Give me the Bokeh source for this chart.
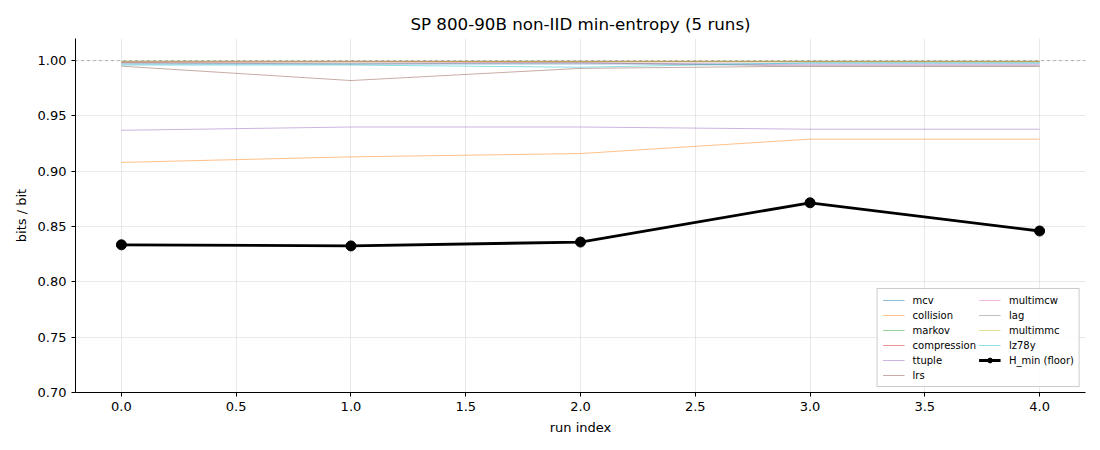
from bokeh.plotting import figure
from bokeh.models import FixedTicker, PrintfTickFormatter, Span, Legend, LegendItem, ColumnDataSource
from bokeh.embed import file_html
from bokeh.resources import INLINE

runs = [0, 1, 2, 3, 4]
mcv = [0.997, 0.997, 0.997, 0.997, 0.997]
collision = [0.908, 0.913, 0.916, 0.929, 0.929]
markov = [0.999, 0.999, 0.999, 0.999, 0.999]
compression = [0.9985, 0.999, 0.999, 0.999, 0.999]
ttuple = [0.937, 0.940, 0.940, 0.938, 0.938]
lrs = [0.995, 0.982, 0.993, 0.995, 0.995]
multimcw = [0.999, 0.999, 0.998, 0.996, 0.996]
lag = [0.998, 0.997, 0.998, 0.995, 0.995]
multimmc = [0.9995, 0.9995, 0.9995, 0.9995, 0.9995]
lz78y = [0.996, 0.996, 0.994, 0.998, 0.998]
h_min = [0.8335, 0.8325, 0.836, 0.8715, 0.846]

series = [
    ("mcv", mcv, "#1f77b4"),
    ("collision", collision, "#ff7f0e"),
    ("markov", markov, "#2ca02c"),
    ("compression", compression, "#d62728"),
    ("ttuple", ttuple, "#9467bd"),
    ("lrs", lrs, "#8c564b"),
    ("multimcw", multimcw, "#e377c2"),
    ("lag", lag, "#7f7f7f"),
    ("multimmc", multimmc, "#bcbd22"),
    ("lz78y", lz78y, "#17becf"),
]

FONT = "DejaVu Sans"

p = figure(width=1100, height=450, output_backend="svg", toolbar_location=None,
           x_range=(-0.2, 4.2), y_range=(0.70, 1.02),
           min_border_left=75, min_border_right=15, min_border_top=38, min_border_bottom=58,
           title="SP 800-90B non-IID min-entropy (5 runs)")
p.title.align = "center"
p.title.text_font = FONT
p.title.text_font_size = "16.7px"
p.title.text_font_style = "normal"
p.title.text_color = "#000000"
p.outline_line_color = None

p.xaxis.ticker = FixedTicker(ticks=[0, 0.5, 1, 1.5, 2, 2.5, 3, 3.5, 4])
p.xaxis.formatter = PrintfTickFormatter(format="%.1f")
p.yaxis.ticker = FixedTicker(ticks=[0.70, 0.75, 0.80, 0.85, 0.90, 0.95, 1.00])
p.yaxis.formatter = PrintfTickFormatter(format="%.2f")
p.xaxis.axis_label = "run index"
p.yaxis.axis_label = "bits / bit"
for ax in (p.xaxis, p.yaxis):
    ax.axis_label_text_font = FONT
    ax.axis_label_text_font_size = "13px"
    ax.axis_label_text_font_style = "normal"
    ax.axis_label_text_color = "#000000"
    ax.major_label_text_font = FONT
    ax.major_label_text_font_size = "13px"
    ax.major_label_text_color = "#000000"
    ax.axis_line_color = "#000000"
    ax.major_tick_line_color = "#000000"
    ax.major_tick_in = 0
    ax.major_tick_out = 4
    ax.minor_tick_line_color = None
    ax.axis_label_standoff = 6

p.grid.grid_line_color = "#b0b0b0"
p.grid.grid_line_alpha = 0.35
p.grid.grid_line_width = 0.8

p.add_layout(Span(location=1.0, dimension="width", line_color="#999999",
                  line_dash="dotted", line_width=1))

items = []
for name, vals, col in series:
    r = p.line(runs, vals, line_color=col, line_alpha=0.55, line_width=0.9)
    items.append(LegendItem(label=name, renderers=[r]))

src = ColumnDataSource(dict(x=runs, y=h_min))
rl = p.line("x", "y", source=src, line_color="black", line_width=2.8)
rc = p.scatter("x", "y", source=src, size=10, fill_color="black", line_color="black")
items.append(LegendItem(label="H_min (floor)", renderers=[rl, rc]))

legend = Legend(items=items, location="bottom_right", nrows=6)
legend.label_text_font = FONT
legend.label_text_font_size = "10px"
legend.label_text_color = "#000000"
legend.label_height = 11
legend.glyph_height = 12
legend.glyph_width = 22
legend.label_standoff = 8
legend.spacing = 3
legend.padding = 5
legend.margin = 5
legend.border_line_color = "#cccccc"
legend.border_line_alpha = 1.0
legend.background_fill_alpha = 0.85
p.add_layout(legend)

open("out.html", "w").write(file_html(p, INLINE))
